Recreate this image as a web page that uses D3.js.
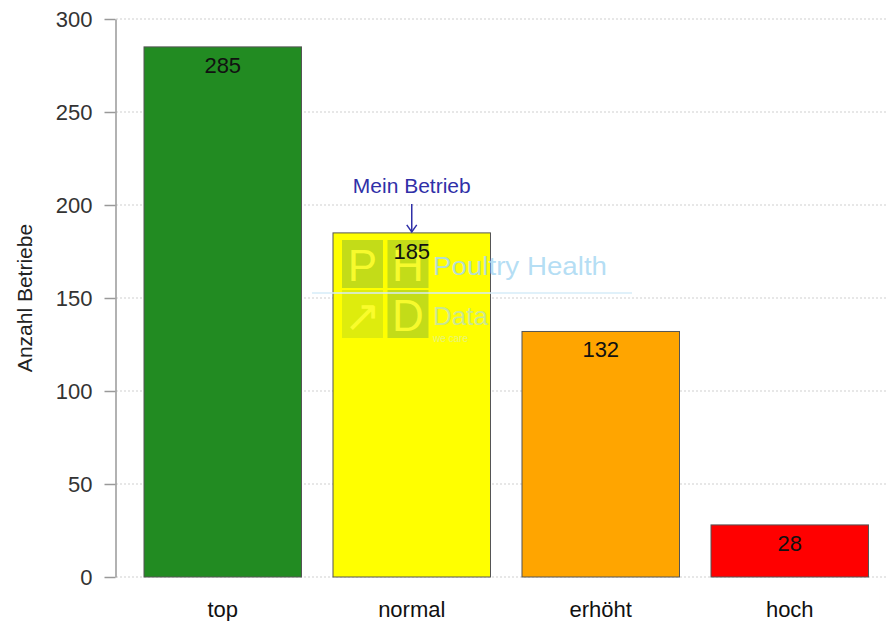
<!DOCTYPE html>
<html>
<head>
<meta charset="utf-8">
<script src="https://cdn.jsdelivr.net/npm/d3@7"></script>
<style>
  html, body { margin: 0; padding: 0; background: #fff; }
  svg { display: block; font-family: "Liberation Sans", Arial, sans-serif; }
</style>
</head>
<body>
<svg id="chart" width="886" height="621"></svg>
<script>
const categories = ["top", "normal", "erhöht", "hoch"];
const values = [285, 185, 132, 28];
const colors = ["#228B22", "#FFFF00", "#FFA500", "#FF0000"];
const yTicks = [0, 50, 100, 150, 200, 250, 300];
const yLabel = "Anzahl Betriebe";
const markCategory = "normal";
const markLabel = "Mein Betrieb";

const svg = d3.select("#chart");
const W = 886, H = 621;

const y = d3.scaleLinear().domain([0, 300]).range([577, 19]);
const x = d3.scaleBand().domain(categories).range([144, 868.5])
  .paddingInner(1/6).paddingOuter(0);

// grid
svg.append("g").selectAll("line").data(yTicks).join("line")
  .attr("x1", 116).attr("x2", W)
  .attr("y1", d => y(d)).attr("y2", d => y(d))
  .attr("stroke", "#cfcfcf").attr("stroke-width", 1)
  .attr("stroke-dasharray", "2,2");

// y axis
const yAxis = d3.axisLeft(y).tickValues(yTicks).tickSize(11).tickPadding(12).tickSizeOuter(0);
const gy = svg.append("g").attr("transform", "translate(115.5,0)").call(yAxis);
gy.select(".domain").attr("stroke", "#999").attr("stroke-width", 1.5);
gy.selectAll(".tick line").attr("stroke", "#999").attr("stroke-width", 1.5);
gy.selectAll(".tick text").attr("fill", "#333").attr("font-size", 22)
  .attr("font-family", "Liberation Sans, Arial, sans-serif");

svg.append("text")
  .attr("transform", `translate(32,${y(150)}) rotate(-90)`)
  .attr("text-anchor", "middle").attr("font-size", 21).attr("fill", "#222")
  .text(yLabel);

// bars
svg.append("g").selectAll("rect").data(categories).join("rect")
  .attr("x", d => x(d)).attr("width", x.bandwidth())
  .attr("y", (d, i) => y(values[i]))
  .attr("height", (d, i) => y(0) - y(values[i]))
  .attr("fill", (d, i) => colors[i])
  .attr("stroke", "#555").attr("stroke-width", 1);

// x labels
svg.append("g").selectAll("text").data(categories).join("text")
  .attr("x", d => x(d) + x.bandwidth() / 2).attr("y", 617)
  .attr("text-anchor", "middle").attr("font-size", 22).attr("fill", "#111")
  .text(d => d);

// watermark
const wm = svg.append("g");
const lx = 342, ly = 240, sq = 41, gap = 4.5;
const cells = [
  {c: 0, r: 0, t: "P", o: 0.4},
  {c: 1, r: 0, t: "H", o: 0.4},
  {c: 0, r: 1, t: "↗", o: 0.22},
  {c: 1, r: 1, t: "D", o: 0.4}
];
wm.selectAll("rect").data(cells).join("rect")
  .attr("x", d => lx + d.c * (sq + gap)).attr("y", d => ly + d.r * (sq + 9))
  .attr("width", sq).attr("height", sq + 7)
  .attr("fill", "#6aa83c").attr("fill-opacity", d => d.o);
wm.selectAll("text.l").data(cells).join("text").attr("class", "l")
  .attr("x", d => lx + d.c * (sq + gap) + sq / 2)
  .attr("y", d => ly + d.r * (sq + 9) + 41)
  .attr("text-anchor", "middle").attr("font-size", 44)
  .attr("fill", "#ffff30").attr("fill-opacity", 0.9)
  .text(d => d.t);
wm.append("line").attr("x1", 312).attr("x2", 632).attr("y1", 293).attr("y2", 293)
  .attr("stroke", "#d6ecf8").attr("stroke-width", 1.5);
wm.append("text").attr("x", 433).attr("y", 275).attr("font-size", 26)
  .attr("textLength", 174).attr("lengthAdjust", "spacingAndGlyphs")
  .attr("fill", "#a8d8f2").attr("fill-opacity", 0.85).text("Poultry Health");
wm.append("text").attr("x", 433).attr("y", 325).attr("font-size", 26)
  .attr("textLength", 55).attr("lengthAdjust", "spacingAndGlyphs")
  .attr("fill", "#a8d8f2").attr("fill-opacity", 0.6).text("Data");
wm.append("text").attr("x", 433).attr("y", 342).attr("font-size", 10)
  .attr("fill", "#cde8f5").attr("fill-opacity", 0.5).text("we care");

// value labels
svg.append("g").selectAll("text").data(categories).join("text")
  .attr("x", d => x(d) + x.bandwidth() / 2)
  .attr("y", (d, i) => y(values[i]) + 26)
  .attr("text-anchor", "middle").attr("font-size", 22).attr("fill", "#111")
  .text((d, i) => values[i]);

// annotation
const mi = categories.indexOf(markCategory);
const mx = x(markCategory) + x.bandwidth() / 2;
svg.append("text").attr("x", mx).attr("y", 193)
  .attr("text-anchor", "middle").attr("font-size", 21).attr("fill", "#3030a8")
  .text(markLabel);
svg.append("line").attr("x1", mx).attr("x2", mx)
  .attr("y1", 204).attr("y2", y(values[mi]) - 1)
  .attr("stroke", "#3030a8").attr("stroke-width", 1.5);
svg.append("path")
  .attr("d", `M${mx - 5},${y(values[mi]) - 8} L${mx},${y(values[mi]) - 1} L${mx + 5},${y(values[mi]) - 8}`)
  .attr("fill", "none").attr("stroke", "#3030a8").attr("stroke-width", 1.5);
</script>
</body>
</html>
